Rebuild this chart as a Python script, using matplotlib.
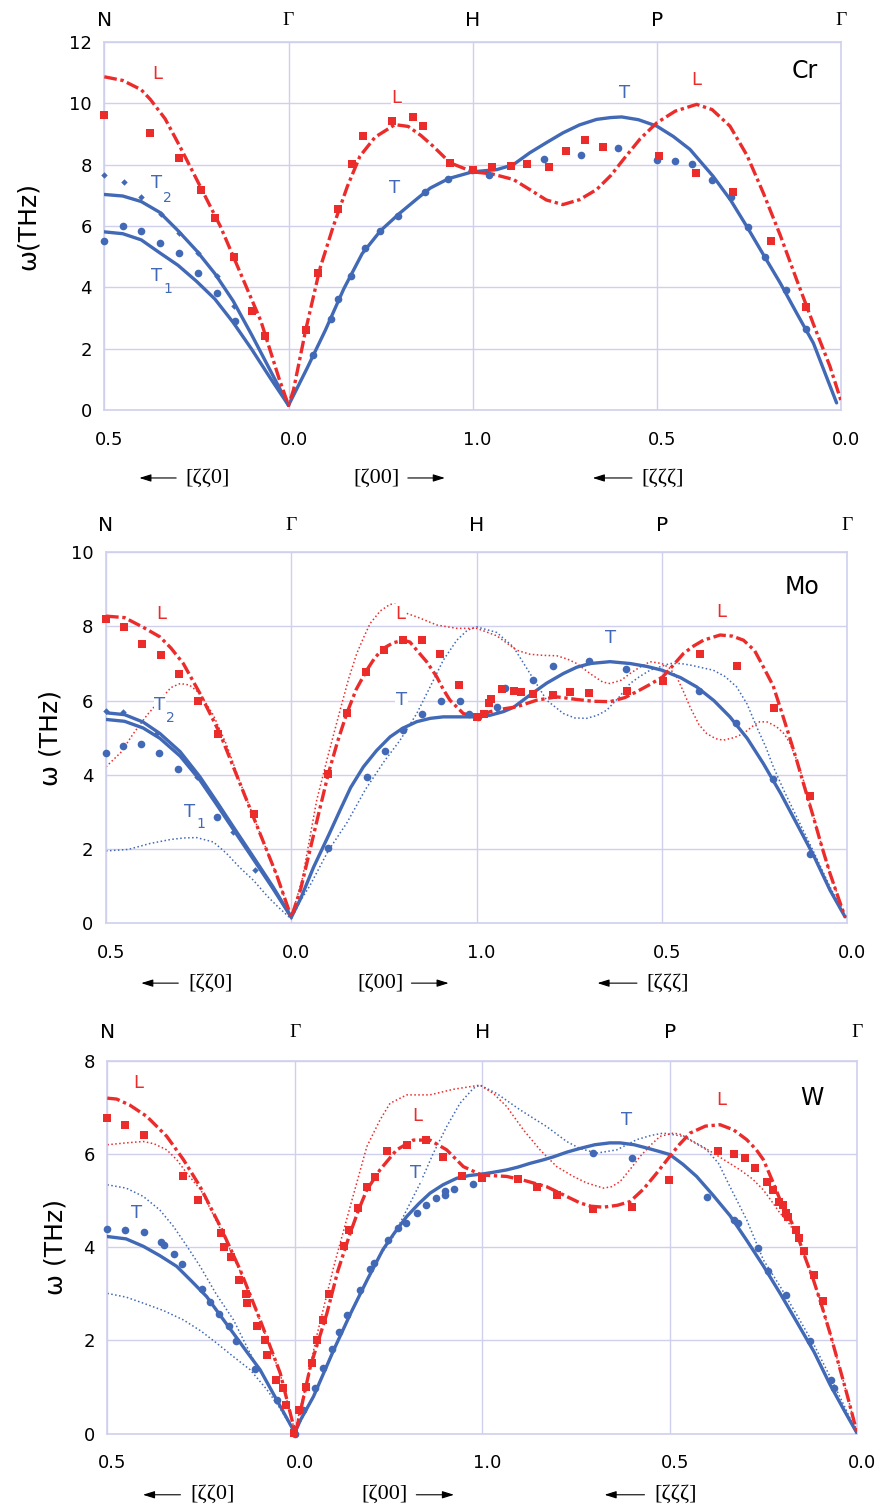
import numpy as np
import matplotlib
matplotlib.use("Agg")
import matplotlib.pyplot as plt
from matplotlib import transforms

RED = "#ec2b2b"
BLUE = "#4169b6"
GRID = "#cfd0ee"

# position along the path: N=0, Gamma=1, H=2, P=3, Gamma=4
path_ticks = [0, 1, 2, 3, 4]
path_ticklabels = ["0.5", "0.0", "1.0", "0.5", "0.0"]
top_labels = ["N", "Γ", "H", "P", "Γ"]
dir_labels = ["[ζζ0]", "[ζ00]", "[ζζζ]"]

# ---------------- Cr ----------------
cr_sq_x = [0.0, 0.248, 0.406, 0.525, 0.603, 0.702, 0.804, 0.874, 1.093, 1.159, 1.269, 1.343, 1.406, 1.562, 1.678,
           1.73, 1.875, 2.0, 2.105, 2.208, 2.293, 2.414, 2.507, 2.61, 2.709, 3.011, 3.21, 3.411, 3.621, 3.81]
cr_sq_y = [9.62, 9.05, 8.22, 7.19, 6.26, 4.99, 3.24, 2.40, 2.61, 4.47, 6.57, 8.03, 8.93, 9.43, 9.56,
           9.28, 8.06, 7.84, 7.92, 7.95, 8.04, 7.93, 8.44, 8.82, 8.59, 8.28, 7.73, 7.11, 5.51, 3.36]
cr_ci_x = [0.0, 0.102, 0.198, 0.302, 0.406, 0.509, 0.61, 0.712, 1.135, 1.231, 1.269, 1.339, 1.414, 1.497, 1.596,
           1.741, 1.868, 1.996, 2.087, 2.387, 2.59, 2.79, 2.999, 3.098, 3.192, 3.299, 3.402, 3.493, 3.587, 3.701, 3.81]
cr_ci_y = [5.51, 6.01, 5.84, 5.45, 5.12, 4.47, 3.81, 2.91, 1.80, 2.98, 3.62, 4.36, 5.27, 5.83, 6.32,
           7.10, 7.55, 7.82, 7.66, 8.19, 8.31, 8.54, 8.16, 8.12, 8.01, 7.51, 6.94, 5.97, 4.98, 3.90, 2.64]
cr_di_x = [0.0, 0.107, 0.201, 0.306, 0.407, 0.509, 0.61, 0.702]
cr_di_y = [7.68, 7.43, 6.95, 6.39, 5.77, 5.12, 4.38, 3.40]

cr_L_x = [0, 0.1, 0.2, 0.25, 0.33, 0.41, 0.52, 0.63, 0.74, 0.85, 0.95, 1.0,
          1.027, 1.093, 1.17, 1.243, 1.32, 1.388, 1.47, 1.578, 1.65, 1.72, 1.786, 1.878,
          2.0, 2.105, 2.221, 2.31, 2.4, 2.49, 2.58, 2.673, 2.75, 2.818, 2.91,
          3.0, 3.1, 3.216, 3.3, 3.397, 3.49, 3.578, 3.67, 3.759, 3.85, 3.94, 4.0]
cr_L_y = [10.87, 10.75, 10.45, 10.13, 9.5, 8.6, 7.3, 5.99, 4.45, 2.9, 1.0, 0.15,
          0.65, 2.6, 4.6, 5.99, 7.3, 8.28, 8.9, 9.31, 9.25, 8.95, 8.6, 8.06,
          7.77, 7.7, 7.52, 7.19, 6.85, 6.7, 6.86, 7.19, 7.65, 8.17, 8.85,
          9.37, 9.75, 9.97, 9.8, 9.26, 8.3, 7.08, 5.7, 4.25, 2.8, 1.42, 0.3]
cr_T2_x = [0, 0.1, 0.2, 0.3, 0.4, 0.5, 0.6, 0.7, 0.8, 0.9, 1.0]
cr_T2_y = [7.03, 6.98, 6.8, 6.45, 5.85, 5.2, 4.45, 3.55, 2.45, 1.3, 0.15]
cr_T1_x = [0, 0.1, 0.2, 0.3, 0.4, 0.5, 0.6, 0.7, 0.8, 0.9, 1.0]
cr_T1_y = [5.81, 5.75, 5.55, 5.13, 4.72, 4.2, 3.62, 2.85, 1.98, 1.05, 0.15]
cr_T_x = [1.0, 1.1, 1.2, 1.3, 1.4, 1.5, 1.6, 1.7, 1.77, 1.87,
          2.0, 2.13, 2.22, 2.31, 2.4, 2.49, 2.58, 2.673, 2.75, 2.809, 2.9,
          3.0, 3.09, 3.18, 3.306, 3.4, 3.488, 3.58, 3.67, 3.76, 3.85, 3.93, 3.976]
cr_T_y = [0.15, 1.35, 2.6, 3.95, 5.1, 5.85, 6.4, 6.9, 7.24, 7.55,
          7.77, 7.84, 8.0, 8.39, 8.72, 9.04, 9.3, 9.48, 9.54, 9.56, 9.47,
          9.26, 8.92, 8.5, 7.62, 6.85, 5.99, 5.05, 4.14, 3.15, 2.18, 0.94, 0.23]

# ---------------- Mo ----------------
mo_sq_x = [0.0, 0.097, 0.196, 0.299, 0.394, 0.496, 0.606, 0.799, 1.2, 1.302, 1.401, 1.502, 1.605, 1.707, 1.802,
           1.905, 2.0, 2.042, 2.069, 2.08, 2.135, 2.2, 2.238, 2.306, 2.414, 2.504, 2.607, 2.81, 3.004, 3.206, 3.404,
           3.607, 3.8]
mo_sq_y = [8.20, 7.99, 7.54, 7.23, 6.71, 5.98, 5.11, 2.95, 4.03, 5.67, 6.78, 7.36, 7.63, 7.63, 7.25,
           6.42, 5.55, 5.63, 5.94, 6.05, 6.30, 6.26, 6.24, 6.17, 6.15, 6.22, 6.21, 6.26, 6.53, 7.25, 6.93,
           5.81, 3.42]
mo_ci_x = [0.0, 0.094, 0.189, 0.288, 0.387, 0.601, 1.2, 1.407, 1.506, 1.605, 1.705, 1.808, 1.91, 1.959,
           2.01, 2.112, 2.153, 2.306, 2.41, 2.608, 2.806, 3.2, 3.4, 3.601, 3.8]
mo_ci_y = [4.59, 4.77, 4.84, 4.59, 4.14, 2.85, 2.01, 3.93, 4.64, 5.20, 5.65, 5.99, 5.99, 5.63,
           5.56, 5.83, 6.33, 6.55, 6.94, 7.07, 6.84, 6.26, 5.40, 3.87, 1.87]
mo_di_x = [0.0, 0.094, 0.27, 0.49, 0.687, 0.804]
mo_di_y = [5.72, 5.70, 5.11, 3.93, 2.46, 1.42]

mo_L_x = [0, 0.1, 0.2, 0.291, 0.35, 0.417, 0.507, 0.615, 0.723, 0.831, 0.92, 1.0,
          1.05, 1.1, 1.15, 1.2, 1.25, 1.299, 1.35, 1.407, 1.45, 1.497,
          1.55, 1.605, 1.64, 1.677, 1.73, 1.785, 1.82, 1.856, 1.928,
          2.0, 2.072, 2.15, 2.216, 2.324, 2.432, 2.54, 2.63, 2.72, 2.8, 2.864, 2.93,
          3.004, 3.06, 3.116, 3.17, 3.224, 3.314, 3.38, 3.44, 3.5, 3.547,
          3.6, 3.637, 3.68, 3.727, 3.77, 3.817, 3.86, 3.907, 3.95, 3.988]
mo_L_y = [8.28, 8.24, 7.98, 7.72, 7.42, 7.0, 6.19, 5.11, 3.76, 2.41, 1.3, 0.15,
          0.9, 1.95, 3.0, 4.03, 4.9, 5.65, 6.3, 6.82, 7.15, 7.41,
          7.56, 7.63, 7.58, 7.36, 7.05, 6.64, 6.3, 6.01, 5.65,
          5.56, 5.70, 5.78, 5.83, 6.01, 6.1, 6.03, 5.98, 5.97, 6.08, 6.24, 6.42,
          6.64, 6.95, 7.27, 7.47, 7.63, 7.77, 7.74, 7.63, 7.35, 6.91,
          6.4, 5.83, 5.15, 4.39, 3.65, 2.86, 2.1, 1.33, 0.7, 0.16]
mo_Lm_x = [0, 0.08, 0.148, 0.22, 0.291, 0.35, 0.4, 0.45, 0.507, 0.58, 0.651, 0.723, 0.831, 0.92, 1.0,
           1.06, 1.137, 1.2, 1.263, 1.31, 1.353, 1.39, 1.425, 1.48, 1.533,
           1.56, 1.587, 1.63, 1.677, 1.785, 1.893,
           2.0, 2.108, 2.216, 2.288, 2.36, 2.432, 2.49, 2.54, 2.62, 2.68, 2.72, 2.78, 2.828, 2.88, 2.936,
           3.0, 3.04, 3.079, 3.12, 3.151, 3.2, 3.241, 3.29, 3.331, 3.39, 3.44, 3.5, 3.529, 3.57,
           3.619, 3.66, 3.691, 3.727, 3.763, 3.817, 3.86, 3.907, 3.95, 3.988]
mo_Lm_y = [4.21, 4.6, 5.11, 5.6, 6.01, 6.35, 6.46, 6.42, 6.19, 5.6, 4.8, 3.8, 2.42, 1.3, 0.15,
           1.2, 3.31, 4.55, 5.74, 6.6, 7.27, 7.7, 8.08, 8.42, 8.6,
           8.6, 8.44, 8.34, 8.26, 8.04, 7.95,
           7.95, 7.75, 7.36, 7.25, 7.22, 7.21, 7.12, 7.0, 6.7, 6.5, 6.46, 6.55, 6.73, 6.9, 7.05,
           7.0, 6.88, 6.64, 6.2, 5.83, 5.35, 5.11, 4.97, 4.93, 5.0, 5.11, 5.35, 5.43, 5.42,
           5.29, 5.1, 4.84, 4.4, 3.85, 2.9, 2.12, 1.35, 0.72, 0.16]
mo_T2_x = [0, 0.1, 0.2, 0.291, 0.4, 0.507, 0.6, 0.687, 0.8, 0.9, 1.0]
mo_T2_y = [5.67, 5.62, 5.42, 5.11, 4.62, 3.94, 3.25, 2.59, 1.74, 0.98, 0.15]
mo_T1_x = [0, 0.1, 0.2, 0.291, 0.4, 0.507, 0.6, 0.687, 0.8, 0.9, 1.0]
mo_T1_y = [5.49, 5.44, 5.26, 4.98, 4.5, 3.85, 3.17, 2.52, 1.68, 0.93, 0.15]
mo_T_x = [1.0, 1.05, 1.12, 1.2, 1.263, 1.32, 1.389, 1.46, 1.533, 1.6, 1.677, 1.75, 1.82, 1.9,
          2.0, 2.07, 2.144, 2.2, 2.288, 2.378, 2.468, 2.54, 2.612, 2.72, 2.828, 2.92,
          3.0, 3.1, 3.187, 3.28, 3.367, 3.46, 3.547, 3.64, 3.727, 3.82, 3.907, 3.988]
mo_T_y = [0.15, 0.65, 1.5, 2.35, 3.04, 3.65, 4.21, 4.65, 5.02, 5.25, 5.43, 5.52, 5.56, 5.56,
          5.56, 5.6, 5.70, 5.82, 6.15, 6.47, 6.73, 6.9, 7.0, 7.05, 7.0, 6.92,
          6.82, 6.62, 6.37, 6.0, 5.56, 4.98, 4.30, 3.5, 2.68, 1.8, 0.88, 0.16]
mo_Tm_x = [0, 0.12, 0.237, 0.35, 0.42, 0.489, 0.58, 0.651, 0.72, 0.795, 0.87, 0.93, 1.0,
           1.05, 1.1, 1.2, 1.3, 1.4, 1.5, 1.587, 1.677, 1.749, 1.82, 1.893, 1.95,
           2.0, 2.108, 2.198, 2.288, 2.378, 2.468, 2.53, 2.594, 2.65, 2.702, 2.77, 2.828, 2.88, 2.936,
           3.0, 3.043, 3.1, 3.151, 3.277, 3.34, 3.403, 3.46, 3.511, 3.56,
           3.601, 3.66, 3.727, 3.82, 3.907, 3.99]
mo_Tm_y = [1.94, 1.98, 2.14, 2.25, 2.29, 2.30, 2.18, 1.87, 1.5, 1.15, 0.72, 0.42, 0.1,
           0.6, 1.0, 1.95, 2.7, 3.6, 4.35, 4.93, 5.65, 6.37, 7.09, 7.63, 7.9,
           7.99, 7.84, 7.45, 6.73, 6.01, 5.65, 5.53, 5.52, 5.6, 5.74, 6.1, 6.46, 6.65, 6.82,
           6.93, 7.0, 7.0, 6.96, 6.82, 6.65, 6.37, 5.9, 5.29, 4.75,
           4.21, 3.55, 2.86, 1.9, 0.97, 0.15]

# ---------------- W ----------------
w_sq_x = [0.0, 0.096, 0.196, 0.401, 0.481, 0.606, 0.623, 0.661, 0.7, 0.739, 0.745, 0.798, 0.839, 0.852, 0.902,
          0.937, 0.955, 0.993, 1.023, 1.06, 1.09, 1.12, 1.148, 1.18, 1.26, 1.287, 1.335, 1.384, 1.429, 1.494,
          1.597, 1.70, 1.792, 1.89, 2.0, 2.192, 2.29, 2.397, 2.592, 2.797, 2.998, 3.255, 3.343, 3.402, 3.456,
          3.518, 3.553, 3.58, 3.606, 3.62, 3.633, 3.672, 3.689, 3.718, 3.769, 3.815]
w_sq_y = [6.77, 6.63, 6.41, 5.52, 5.02, 4.30, 4.0, 3.80, 3.30, 2.99, 2.80, 2.30, 2.01, 1.69, 1.15,
          0.99, 0.62, 0.02, 0.51, 1.01, 1.51, 2.01, 2.43, 3.0, 4.02, 4.37, 4.84, 5.30, 5.50, 6.07,
          6.20, 6.30, 5.94, 5.52, 5.48, 5.46, 5.29, 5.12, 4.82, 4.86, 5.45, 6.06, 6.01, 5.91, 5.70,
          5.40, 5.22, 4.98, 4.91, 4.73, 4.66, 4.37, 4.19, 3.93, 3.41, 2.85]
w_ci_x = [0.0, 0.096, 0.196, 0.285, 0.303, 0.358, 0.397, 0.506, 0.545, 0.597, 0.647, 0.688, 0.79, 0.904, 1.0,
          1.046, 1.109, 1.15, 1.198, 1.237, 1.278, 1.345, 1.402, 1.423, 1.495, 1.55, 1.593, 1.65, 1.70, 1.753,
          1.80, 1.80, 1.849, 1.952, 2.0, 2.592, 2.8, 3.196, 3.343, 3.366, 3.469, 3.523, 3.62, 3.748, 3.86, 3.878]
w_ci_y = [4.40, 4.37, 4.32, 4.12, 4.05, 3.86, 3.64, 3.11, 2.83, 2.57, 2.30, 1.98, 1.38, 0.72, 0.0,
          0.51, 0.99, 1.40, 1.81, 2.19, 2.55, 3.09, 3.53, 3.67, 4.16, 4.41, 4.53, 4.74, 4.91, 5.05,
          5.12, 5.21, 5.24, 5.36, 5.52, 6.03, 5.91, 5.07, 4.59, 4.52, 3.98, 3.48, 2.98, 1.98, 1.15, 0.97]

w_L_x = [0, 0.05, 0.12, 0.21, 0.317, 0.406, 0.495, 0.602, 0.709, 0.815, 0.922, 1.0,
         1.012, 1.083, 1.171, 1.23, 1.295, 1.34, 1.384, 1.454, 1.543, 1.632, 1.721, 1.81, 1.899, 1.997,
         2.13, 2.219, 2.343, 2.45, 2.522, 2.58, 2.646, 2.72, 2.788, 2.86, 2.93,
         3.0, 3.05, 3.108, 3.19, 3.268, 3.34, 3.41, 3.46, 3.499, 3.55,
         3.588, 3.63, 3.677, 3.72, 3.766, 3.81, 3.855, 3.9, 3.944, 4.0]
w_L_y = [7.2, 7.18, 7.05, 6.81, 6.38, 5.88, 5.30, 4.45, 3.51, 2.44, 1.30, 0.05,
         0.15, 1.44, 2.58, 3.5, 4.30, 4.8, 5.23, 5.66, 6.09, 6.30, 6.30, 6.09, 5.73, 5.55,
         5.52, 5.44, 5.30, 5.09, 4.95, 4.88, 4.86, 4.9, 4.98, 5.25, 5.59,
         5.95, 6.2, 6.45, 6.6, 6.63, 6.52, 6.31, 6.1, 5.88, 5.4,
         5.02, 4.7, 4.30, 3.8, 3.30, 2.75, 2.15, 1.5, 0.86, 0.0]
w_Lm_x = [0, 0.1, 0.192, 0.25, 0.317, 0.37, 0.424, 0.5, 0.602, 0.709, 0.815, 0.922, 1.0,
          1.06, 1.12, 1.208, 1.295, 1.384, 1.454, 1.508, 1.597, 1.721, 1.845,
          1.988, 2.059, 2.13, 2.219, 2.308, 2.397, 2.485, 2.557, 2.646, 2.69,
          2.735, 2.79, 2.842, 2.9, 2.948, 3.02, 3.06, 3.108, 3.17, 3.233,
          3.3, 3.375, 3.44, 3.499, 3.55, 3.588, 3.63, 3.677, 3.72, 3.766,
          3.81, 3.855, 3.9, 3.944, 4.0]
w_Lm_y = [6.2, 6.24, 6.27, 6.22, 6.09, 5.88, 5.59, 5.22, 4.4, 3.48, 2.42, 1.28, 0.05,
          1.05, 2.15, 3.59, 4.87, 6.16, 6.73, 7.09, 7.27, 7.27, 7.39,
          7.48, 7.30, 7.02, 6.52, 6.09, 5.73, 5.52, 5.38, 5.27, 5.3,
          5.41, 5.68, 5.95, 6.2, 6.38, 6.45, 6.42, 6.31, 6.17, 6.02,
          5.85, 5.66, 5.47, 5.23, 4.95, 4.73, 4.55, 4.25, 3.8, 3.30,
          2.75, 2.15, 1.5, 0.86, 0.0]
w_T_x = [0, 0.1, 0.192, 0.28, 0.37, 0.45, 0.53, 0.6, 0.673, 0.745, 0.815, 0.9, 1.0,
         1.03, 1.1, 1.208, 1.3, 1.386, 1.47, 1.53, 1.597, 1.66, 1.721,
         1.79, 1.863, 1.93, 1.997, 2.06, 2.13, 2.19, 2.254, 2.32, 2.379,
         2.45, 2.52, 2.6, 2.68, 2.735, 2.81, 2.877, 2.94, 3.0, 3.07,
         3.143, 3.23, 3.321, 3.41, 3.499, 3.59, 3.677, 3.77, 3.855, 3.93, 4.0]
w_T_y = [4.23, 4.18, 4.02, 3.82, 3.59, 3.27, 2.94, 2.55, 2.15, 1.75, 1.37, 0.75, 0.02,
         0.29, 0.8, 1.80, 2.6, 3.30, 3.95, 4.3, 4.66, 4.93, 5.16,
         5.34, 5.48, 5.54, 5.57, 5.61, 5.66, 5.72, 5.80, 5.87, 5.94,
         6.04, 6.12, 6.2, 6.24, 6.24, 6.2, 6.13, 6.06, 5.99, 5.78,
         5.52, 5.12, 4.68, 4.15, 3.6, 3.0, 2.4, 1.75, 1.05, 0.5, 0.0]
w_Tu_x = [0, 0.1, 0.192, 0.28, 0.352, 0.42, 0.495, 0.58, 0.673, 0.73, 0.78, 0.85, 0.92, 1.0]
w_Tu_y = [5.34, 5.27, 5.09, 4.8, 4.45, 4.05, 3.59, 3.0, 2.44, 1.98, 1.58, 1.1, 0.6, 0.02]
w_Tl_x = [0, 0.1, 0.192, 0.3, 0.406, 0.5, 0.584, 0.67, 0.762, 0.85, 0.92, 1.0]
w_Tl_y = [3.01, 2.93, 2.80, 2.64, 2.44, 2.2, 1.94, 1.66, 1.37, 0.95, 0.55, 0.02]
w_Tm_x = [1.0, 1.1, 1.208, 1.3, 1.386, 1.45, 1.52, 1.579, 1.668, 1.739,
          1.81, 1.881, 1.952, 1.988, 2.077, 2.201, 2.343, 2.45, 2.52, 2.61,
          2.717, 2.824, 2.9, 2.966, 3.073, 3.197, 3.26, 3.321, 3.41, 3.499,
          3.59, 3.677, 3.77, 3.855, 3.93, 4.0]
w_Tm_y = [0.02, 0.8, 1.8, 2.62, 3.32, 3.8, 4.2, 4.66, 5.37, 6.02,
          6.59, 7.09, 7.41, 7.48, 7.30, 6.95, 6.59, 6.27, 6.12, 6.02,
          6.09, 6.31, 6.4, 6.45, 6.38, 6.09, 5.8, 5.3, 4.59, 3.73,
          3.15, 2.55, 1.9, 1.22, 0.6, 0.0]

# curve labels: text, x, y, colour
cr_labels = [("L", 0.29, 10.95, RED), ("T", 0.284, 7.41, BLUE), ("T", 0.284, 4.36, BLUE),
             ("L", 1.587, 10.19, RED), ("T", 1.578, 7.24, BLUE), ("T", 2.827, 10.35, BLUE),
             ("L", 3.216, 10.78, RED)]
cr_subs = [("2", 0.344, 6.92), ("1", 0.344, 3.93)]
mo_labels = [("L", 0.3, 8.35, RED), ("T", 0.291, 5.88, BLUE), ("T", 0.453, 3.0, BLUE),
             ("L", 1.587, 8.35, RED), ("T", 1.596, 6.01, BLUE), ("T", 2.725, 7.68, BLUE),
             ("L", 3.319, 8.40, RED)]
mo_subs = [("2", 0.345, 5.52), ("1", 0.511, 2.66)]
w_labels = [("L", 0.166, 7.52, RED), ("T", 0.157, 4.73, BLUE), ("L", 1.653, 6.81, RED),
            ("T", 1.644, 5.59, BLUE), ("T", 2.769, 6.73, BLUE), ("L", 3.277, 7.16, RED)]

panels = [
    dict(name="Cr", name_xy=(3.804, 11.06), ymax=12, ylabel="ω(THz)",
         rect=[0.1187, 0.7287, 0.8381, 0.2434], ylab_x=-0.104, top_y=1.06, dir_y=-0.185,
         sq=(cr_sq_x, cr_sq_y), ci=(cr_ci_x, cr_ci_y), di=(cr_di_x, cr_di_y),
         dash=[(cr_L_x, cr_L_y)], solid=[(cr_T2_x, cr_T2_y), (cr_T1_x, cr_T1_y), (cr_T_x, cr_T_y)],
         rdot=[], bdot=[], labels=cr_labels, subs=cr_subs),
    dict(name="Mo", name_xy=(3.754, 9.07), ymax=10, ylabel="ω (THz)",
         rect=[0.1206, 0.3893, 0.8433, 0.2451], ylab_x=-0.0755, top_y=1.073, dir_y=-0.163,
         sq=(mo_sq_x, mo_sq_y), ci=(mo_ci_x, mo_ci_y), di=(mo_di_x, mo_di_y),
         dash=[(mo_L_x, mo_L_y)], solid=[(mo_T2_x, mo_T2_y), (mo_T1_x, mo_T1_y), (mo_T_x, mo_T_y)],
         rdot=[(mo_Lm_x, mo_Lm_y)], bdot=[(mo_Tm_x, mo_Tm_y)], labels=mo_labels, subs=mo_subs),
    dict(name="W", name_xy=(3.757, 7.20), ymax=8, ylabel="ω (THz)",
         rect=[0.1221, 0.0512, 0.8532, 0.2467], ylab_x=-0.0697, top_y=1.077, dir_y=-0.164,
         sq=(w_sq_x, w_sq_y), ci=(w_ci_x, w_ci_y), di=None,
         dash=[(w_L_x, w_L_y)], solid=[(w_T_x, w_T_y)],
         rdot=[(w_Lm_x, w_Lm_y)], bdot=[(w_Tu_x, w_Tu_y), (w_Tl_x, w_Tl_y), (w_Tm_x, w_Tm_y)],
         labels=w_labels, subs=[]),
]

fig = plt.figure(figsize=(8.79, 15.11), dpi=100)
shift = transforms.ScaledTranslation(5 / 100, 0, fig.dpi_scale_trans)

for p in panels:
    ax = fig.add_axes(p["rect"])
    ax.set_xlim(0, 4)
    ax.set_ylim(0, p["ymax"])
    ax.set_xticks(path_ticks)
    ax.set_xticklabels(path_ticklabels)
    ax.set_yticks(np.arange(0, p["ymax"] + 1, 2))
    ax.grid(True, color=GRID, lw=1.0)
    ax.set_axisbelow(True)
    for s in ax.spines.values():
        s.set_color(GRID)
        s.set_linewidth(1.2)
    ax.tick_params(axis="both", length=0, labelsize=13)
    ax.tick_params(axis="x", pad=15)
    ax.tick_params(axis="y", pad=9)
    for lbl in ax.get_xticklabels():
        lbl.set_transform(lbl.get_transform() + shift)

    # theory curves
    for x, y in p["bdot"]:
        ax.plot(x, y, color=BLUE, lw=1.1, ls=(0, (1, 1.6)), zorder=2)
    for x, y in p["rdot"]:
        ax.plot(x, y, color=RED, lw=1.1, ls=(0, (1, 1.6)), zorder=2)
    for x, y in p["solid"]:
        ax.plot(x, y, color=BLUE, lw=2.4, solid_capstyle="round", zorder=3)
    for x, y in p["dash"]:
        ax.plot(x, y, color=RED, lw=2.4, ls=(0, (3.8, 1.1, 1.0, 1.1)), zorder=4)

    # measurements
    ax.plot(*p["ci"], "o", color=BLUE, ms=5.5, mew=0, zorder=5, clip_on=False)
    if p["di"] is not None:
        ax.plot(*p["di"], "D", color=BLUE, ms=3.3, mew=0, zorder=5, clip_on=False)
    ax.plot(*p["sq"], "s", color=RED, ms=5.2, mew=0, zorder=6, clip_on=False)

    # curve labels
    for t, x, y, c in p["labels"]:
        ax.text(x, y, t, color=c, fontsize=13, ha="center", va="center", zorder=7,
                bbox=dict(facecolor="white", edgecolor="none", pad=0.5))
    for t, x, y in p["subs"]:
        ax.text(x, y, t, color=BLUE, fontsize=10, ha="center", va="center", zorder=7)
    ax.text(*p["name_xy"], p["name"], fontsize=17, ha="center", va="center", zorder=7)

    # symmetry points above the panel
    tb = transforms.blended_transform_factory(ax.transData, ax.transAxes)
    for xi, t in zip(path_ticks, top_labels):
        fam = "Liberation Serif" if t == "Γ" else "DejaVu Sans"
        ax.text(xi, p["top_y"], t, transform=tb, ha="center", va="center",
                fontsize=14 if t == "Γ" else 14.5, family=fam)

    # direction hints under the axis
    dy = p["dir_y"]
    ax.text(0.563, dy, dir_labels[0], transform=tb, ha="center", va="center",
            fontsize=16, family="Liberation Serif")
    ax.text(1.479, dy, dir_labels[1], transform=tb, ha="center", va="center",
            fontsize=16, family="Liberation Serif")
    ax.text(3.03, dy, dir_labels[2], transform=tb, ha="center", va="center",
            fontsize=16, family="Liberation Serif")
    arr = dict(arrowstyle="-|>,head_length=0.7,head_width=0.22", lw=0.8, color="black",
               shrinkA=0, shrinkB=0)
    for x0, x1 in [(0.39, 0.19), (1.648, 1.849), (2.865, 2.652)]:
        ax.annotate("", xy=(x1, dy), xytext=(x0, dy), xycoords=tb, textcoords=tb,
                    arrowprops=arr, annotation_clip=False)

    ax.text(p["ylab_x"], 0.5, p["ylabel"], transform=ax.transAxes, rotation=90,
            ha="center", va="center", fontsize=18)

fig.savefig("out.png", dpi=100)
